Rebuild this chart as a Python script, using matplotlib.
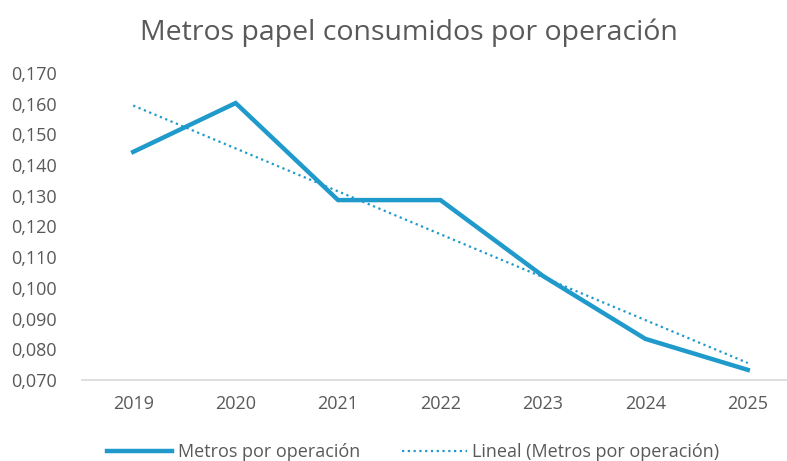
import matplotlib.pyplot as plt
import numpy as np
from matplotlib.ticker import FuncFormatter

plt.rcParams["font.family"] = ["Open Sans", "DejaVu Sans"]

# Datos
anios = ["2019", "2020", "2021", "2022", "2023", "2024", "2025"]
metros = [0.1443, 0.1602, 0.1286, 0.1286, 0.1039, 0.0834, 0.0733]

color_linea = "#1F9ACB"
gris = "#595959"

x = np.arange(len(anios))
# linea de tendencia (ajuste lineal)
pendiente, intercepto = np.polyfit(x, metros, 1)
tendencia = pendiente * x + intercepto

fig = plt.figure(figsize=(7.87, 4.61), dpi=100)
ax = fig.add_axes([0.1042, 0.1757, 0.911, 0.666])

ax.plot(x, metros, color=color_linea, linewidth=3.2,
        solid_joinstyle="miter", label="Metros por operación")
ax.plot(x, tendencia, color=color_linea, linewidth=1.6, linestyle=(0, (1, 1.6)),
        label="Lineal (Metros por operación)")

ax.set_xlim(-0.5, len(anios) - 0.5)
ax.set_ylim(0.070, 0.170)
ax.set_yticks(np.arange(0.070, 0.1701, 0.010))
ax.yaxis.set_major_formatter(FuncFormatter(lambda v, p: f"{v:.3f}".replace(".", ",")))
ax.set_xticks(x)
ax.set_xticklabels(anios)

for lado in ["top", "right", "left"]:
    ax.spines[lado].set_visible(False)
ax.spines["bottom"].set_color("#D9D9D9")
ax.spines["bottom"].set_linewidth(1.2)
ax.tick_params(axis="both", length=0, labelsize=13, colors=gris)
ax.tick_params(axis="x", pad=11)
ax.tick_params(axis="y", pad=18)

fig.suptitle("Metros papel consumidos por operación", x=0.52, y=0.96,
             fontsize=20.5, color=gris)

fig.legend(loc="lower center", bbox_to_anchor=(0.525, -0.035), ncol=2,
           frameon=False, fontsize=13, handlelength=3.6, handletextpad=0.3,
           columnspacing=2.3, labelcolor=gris)

plt.savefig("out.png", dpi=100)
plt.close(fig)
